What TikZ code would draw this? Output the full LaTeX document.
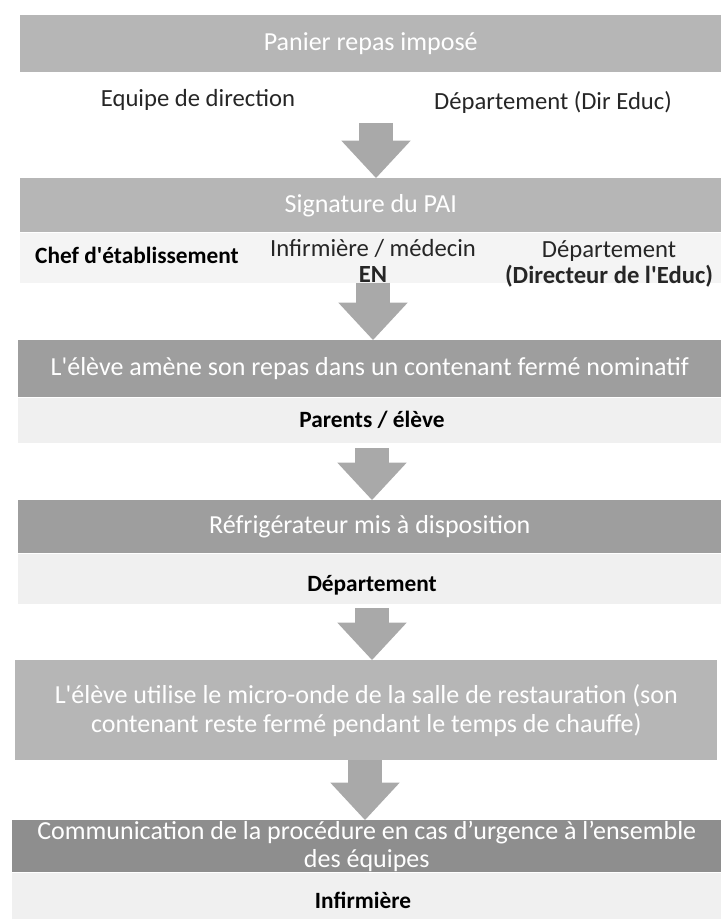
\documentclass[tikz,border=0pt]{standalone}
\usepackage{fontspec}
\setmainfont{Carlito}
\usepackage{xcolor}
\usepackage{tikz}
\usetikzlibrary{arrows.meta, positioning}

\definecolor{bandlight}{HTML}{B6B6B6}
\definecolor{banddark}{HTML}{9E9E9E}
\definecolor{rolefill}{HTML}{F0F0F0}
\definecolor{arrowgray}{HTML}{A9A9A9}

\begin{document}
\begin{tikzpicture}[
    x=0.75pt, y=-0.75pt,
    band/.style={rectangle, anchor=north west, fill=bandlight, text=white, inner sep=0pt, minimum width=525.75pt, minimum height=#1, align=center, font=\fontsize{19.5}{21.5}\selectfont},
    roleband/.style={rectangle, anchor=north west, fill=rolefill, inner sep=0pt, minimum width=525.75pt, minimum height=#1},
    role/.style={inner sep=0pt, align=center, text=black!85, font=\fontsize{18.5}{19}\selectfont},
    rolebold/.style={role, text=black, font=\bfseries\fontsize{17.5}{19}\selectfont},
    flow/.style={draw=arrowgray, line width=25pt, -{Triangle[width=52pt 0 0, length=28pt 0 0, line width=0pt 0 0]}}
]
\useasboundingbox (0,0) rectangle (721,919);

% etapes
\node[band=42.75pt] (b1) at (20,15) {Panier repas imposé};
\node[role] (equipe) at (198,100) {Equipe de direction};
\node[role] (depdir) at (553,102) {Département (Dir Educ)};

\node[band=40.5pt] (b2) at (20,178) {Signature du PAI};
\node[roleband=37.5pt, fill=rolefill!70] (r2) at (b2.south west) {};
\node[rolebold] (chef) at (137,255) {Chef d\textquotesingle établissement};
\node[role] (infirm) at (373,261) {Infirmière / médecin\\\textbf{EN}};
\node[role] (depeduc) at (609,264) {Département\\\textbf{(Directeur de l\textquotesingle Educ)}};

\node[band=42.75pt, fill=banddark, minimum width=527.25pt] (b3) at (18,340) {L\textquotesingle élève amène son repas dans un contenant fermé nominatif};
\node[roleband=34pt, minimum width=527.25pt] (r3) at (b3.south west) {};
\node[rolebold] (parents) at (372,420) {Parents / élève};

\node[band=39.75pt, fill=banddark, minimum width=527.25pt] (b4) at (18,500) {Réfrigérateur mis à disposition};
\node[roleband=37.5pt, minimum width=527.25pt] (r4) at (b4.south west) {};
\node[rolebold] (dept) at (372,585) {Département};

\node[band=75pt, minimum width=526.5pt] (b5) at (15,660) {L\textquotesingle élève utilise le micro-onde de la salle de restauration (son\\contenant reste fermé pendant le temps de chauffe)};

\node[band=39pt, fill=banddark!90!black, minimum width=531.75pt] (b6) at (12,820) {Communication de la procédure en cas d'urgence à l'ensemble\\des équipes};
\node[roleband=35.25pt, minimum width=531.75pt] (r6) at (b6.south west) {};
\node[rolebold] (infirmiere) at (363,900) {Infirmière};

% fleches
\coordinate (a1) at (376,123);
\coordinate (a2) at (373,283);
\coordinate (a3) at (372,448);
\coordinate (a4) at (372,608);
\coordinate (a5) at (365,760);
\draw[flow] (a1) -- (a1 |- b2.north);
\draw[flow] (a2) -- (a2 |- b3.north);
\draw[flow] (a3) -- (a3 |- b4.north);
\draw[flow] (a4) -- (a4 |- b5.north);
\draw[flow] (a5) -- (a5 |- b6.north);

\end{tikzpicture}
\end{document}
